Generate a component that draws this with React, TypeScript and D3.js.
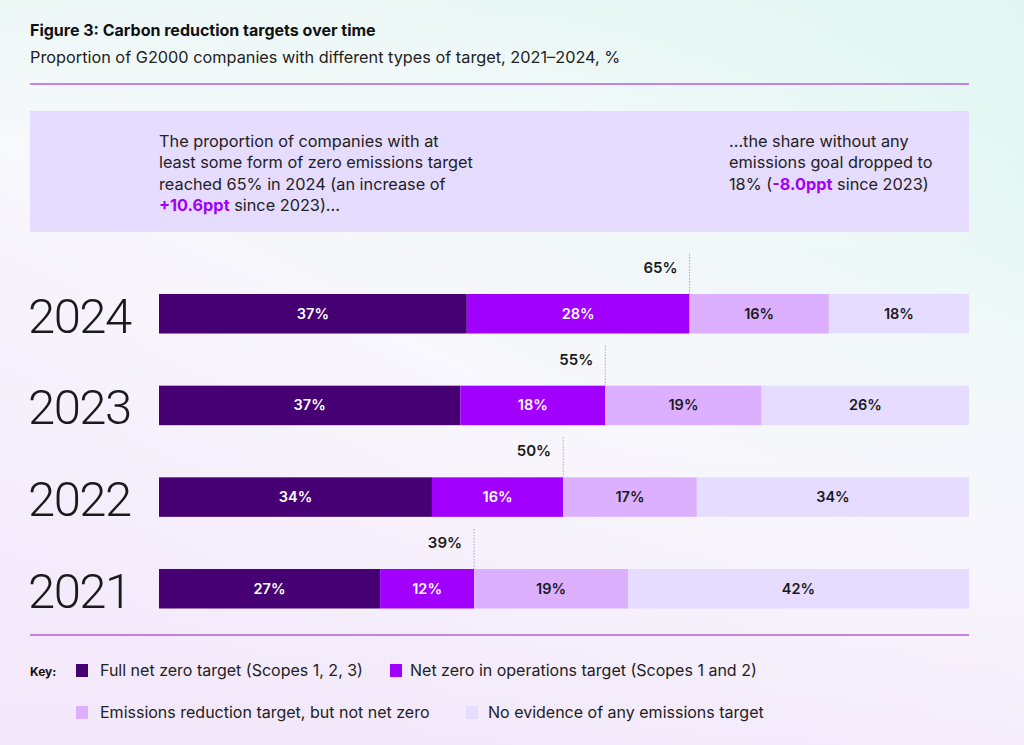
import React, { useEffect } from "react";
import * as d3 from "d3";

const years = ["2024", "2023", "2022", "2021"];
const fullNetZero = [38.0, 37.2, 33.7, 27.3];
const opsNetZero = [27.5, 17.9, 16.2, 11.6];
const reductionOnly = [17.2, 19.3, 16.5, 19.0];
const noTarget = [17.3, 25.6, 33.6, 42.1];

const fullNetZeroLabels = ["37%", "37%", "34%", "27%"];
const opsNetZeroLabels = ["28%", "18%", "16%", "12%"];
const reductionOnlyLabels = ["16%", "19%", "17%", "19%"];
const noTargetLabels = ["18%", "26%", "34%", "42%"];
const netZeroTotalLabels = ["65%", "55%", "50%", "39%"];

const seriesNames = [
  "Full net zero target (Scopes 1, 2, 3)",
  "Net zero in operations target (Scopes 1 and 2)",
  "Emissions reduction target, but not net zero",
  "No evidence of any emissions target",
];
const seriesColors = ["#460073", "#a100ff", "#dcafff", "#e6dcff"];
const seriesTextColors = ["#ffffff", "#ffffff", "#1a1a1a", "#1a1a1a"];

const FONT = "Inter, Roboto, 'Noto Sans', sans-serif";

export default function App() {
  useEffect(() => {
    document.body.style.margin = "0";
  }, []);

  const W = 1024;
  const H = 745;

  const x = d3.scaleLinear().domain([0, 100]).range([159, 969]);
  const y = d3
    .scaleBand<string>()
    .domain(years)
    .range([294, 608.5])
    .paddingInner(0.569)
    .paddingOuter(0);

  const values = [fullNetZero, opsNetZero, reductionOnly, noTarget];
  const labels = [fullNetZeroLabels, opsNetZeroLabels, reductionOnlyLabels, noTargetLabels];

  const rows = years.map((yr, i) => {
    const vals = values.map((s) => s[i]);
    const sum = d3.sum(vals);
    const norm = vals.map((v) => (v / sum) * 100);
    const cum = d3.cumsum(norm);
    const segs = norm.map((v, k) => ({
      x0: x(k === 0 ? 0 : cum[k - 1]),
      x1: x(cum[k]),
      label: labels[k][i],
      k,
    }));
    return { yr, segs, nzEnd: x(cum[1]), total: netZeroTotalLabels[i] };
  });

  const bw = y.bandwidth();

  return (
    <svg
      width={W}
      height={H}
      style={{ display: "block", position: "absolute", left: 0, top: 0 }}
      fontFamily={FONT}
    >
      <defs>
        <linearGradient id="bg" x1="1" y1="0" x2="0.35" y2="1">
          <stop offset="0" stopColor="#cdf3eb" />
          <stop offset="0.3" stopColor="#eef8f8" />
          <stop offset="0.6" stopColor="#f8f7fc" />
          <stop offset="1" stopColor="#f1e7fa" />
        </linearGradient>
        <linearGradient id="bg2" x1="0" y1="0" x2="0" y2="1">
          <stop offset="0" stopColor="#eaf7f5" stopOpacity="0.7" />
          <stop offset="0.35" stopColor="#ffffff" stopOpacity="0" />
          <stop offset="1" stopColor="#f3e8fb" stopOpacity="0.6" />
        </linearGradient>
      </defs>
      <rect x={0} y={0} width={W} height={H} fill="url(#bg)" />
      <rect x={0} y={0} width={W} height={H} fill="url(#bg2)" />

      <text x={30} y={36} fontSize={16} fontWeight={700} fill="#111">
        Figure 3: Carbon reduction targets over time
      </text>
      <text x={30} y={63} fontSize={16.3} fill="#222">
        Proportion of G2000 companies with different types of target, 2021–2024, %
      </text>
      <line x1={30} x2={969} y1={84} y2={84} stroke="#b35fd6" strokeWidth={1.5} />

      <rect x={30} y={111} width={939} height={121} fill="#e6dcff" />
      <g fontSize={16.3} fill="#222">
        <text x={159} y={147}>The proportion of companies with at</text>
        <text x={159} y={168}>least some form of zero emissions target</text>
        <text x={159} y={190}>reached 65% in 2024 (an increase of</text>
        <text x={159} y={211}>
          <tspan fill="#a100ff" fontWeight={700}>+10.6ppt</tspan>
          <tspan> since 2023)...</tspan>
        </text>
        <text x={729} y={147}>...the share without any</text>
        <text x={729} y={168}>emissions goal dropped to</text>
        <text x={729} y={190}>
          <tspan>18% (</tspan>
          <tspan fill="#a100ff" fontWeight={700}>-8.0ppt</tspan>
          <tspan> since 2023)</tspan>
        </text>
      </g>

      {rows.map((r) => {
        const top = y(r.yr)!;
        return (
          <g key={r.yr}>
            <text
              x={28}
              y={top + bw - 1}
              fontFamily="Roboto, sans-serif"
              fontSize={49}
              fontWeight={300}
              fill="#1a1a1a"
              letterSpacing={-1.5}
            >
              {r.yr}
            </text>
            {r.segs.map((s) => (
              <g key={s.k}>
                <rect
                  x={s.x0}
                  y={top}
                  width={s.x1 - s.x0}
                  height={bw}
                  fill={seriesColors[s.k]}
                />
                <text
                  x={(s.x0 + s.x1) / 2}
                  y={top + bw / 2 + 5}
                  textAnchor="middle"
                  fontSize={14.5}
                  fontWeight={600}
                  fill={seriesTextColors[s.k]}
                >
                  {s.label}
                </text>
              </g>
            ))}
            <line
              x1={r.nzEnd}
              x2={r.nzEnd}
              y1={top - 40}
              y2={top}
              stroke="#c58fe0"
              strokeWidth={1}
              strokeDasharray="1.5,1.5"
            />
            <text
              x={r.nzEnd - 12}
              y={top - 21}
              textAnchor="end"
              fontSize={15}
              fontWeight={600}
              fill="#1a1a1a"
            >
              {r.total}
            </text>
          </g>
        );
      })}

      <line x1={30} x2={969} y1={635} y2={635} stroke="#b35fd6" strokeWidth={1.5} />

      <text x={30} y={676} fontSize={12} fontWeight={700} fill="#111">
        Key:
      </text>
      {[
        { k: 0, sx: 76, tx: 100, sy: 664 },
        { k: 1, sx: 390, tx: 410, sy: 664 },
        { k: 2, sx: 76, tx: 100, sy: 706 },
        { k: 3, sx: 466, tx: 488, sy: 706 },
      ].map((l) => (
        <g key={l.k}>
          <rect x={l.sx} y={l.sy} width={12} height={13} fill={seriesColors[l.k]} />
          <text x={l.tx} y={l.sy + 12} fontSize={16} fill="#222">
            {seriesNames[l.k]}
          </text>
        </g>
      ))}
    </svg>
  );
}
